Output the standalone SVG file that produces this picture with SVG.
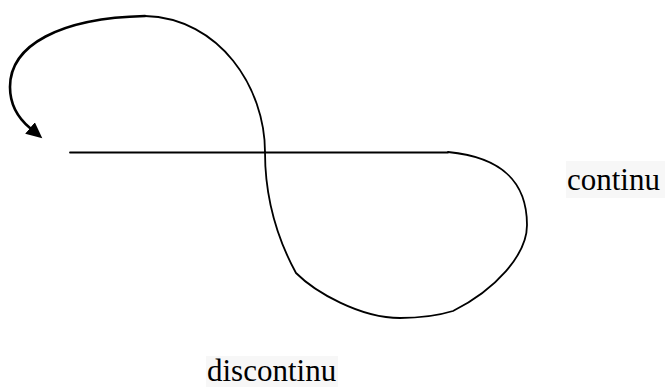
<svg xmlns="http://www.w3.org/2000/svg" width="665" height="387" viewBox="0 0 665 387">
<style>
.c{fill:none;stroke:#000;stroke-width:1.8;stroke-linecap:round}
.t{font-family:"Liberation Serif","Times New Roman",serif;font-size:31px;fill:#000}
.bg{fill:#f7f7f7}
</style>
<defs>
<marker id="ah" markerUnits="userSpaceOnUse" markerWidth="18" markerHeight="16" refX="0" refY="7.5" orient="auto" viewBox="0 -0.5 18 16">
<path d="M0,0 L16,7.5 L0,15 z" fill="#000"/>
</marker>
</defs>
<g id="connectors">
<path class="c" d="M70,152.5 H448"/>
<path class="c" d="M265,152 C265,88 220,18 145,16"/>
<path class="c" style="stroke-width:2.6" d="M145,16 C60,18 10,45 10,87 C10,105 18,118 30,128" marker-end="url(#ah)"/>
<path class="c" d="M265,152 C265,200 278,240 296,273 C315,292 360,318 400,318 C420,318 440,315 453,311 C495,290 527,255 527,225 C527,180 500,157 448,152"/>
</g>
<g id="label-continu">
<rect class="bg" x="566" y="161" width="99" height="37"/>
<text class="t" x="567" y="190">continu</text>
</g>
<g id="label-discontinu">
<rect class="bg" x="206" y="356" width="132" height="31"/>
<text class="t" x="207" y="381">discontinu</text>
</g>
</svg>
